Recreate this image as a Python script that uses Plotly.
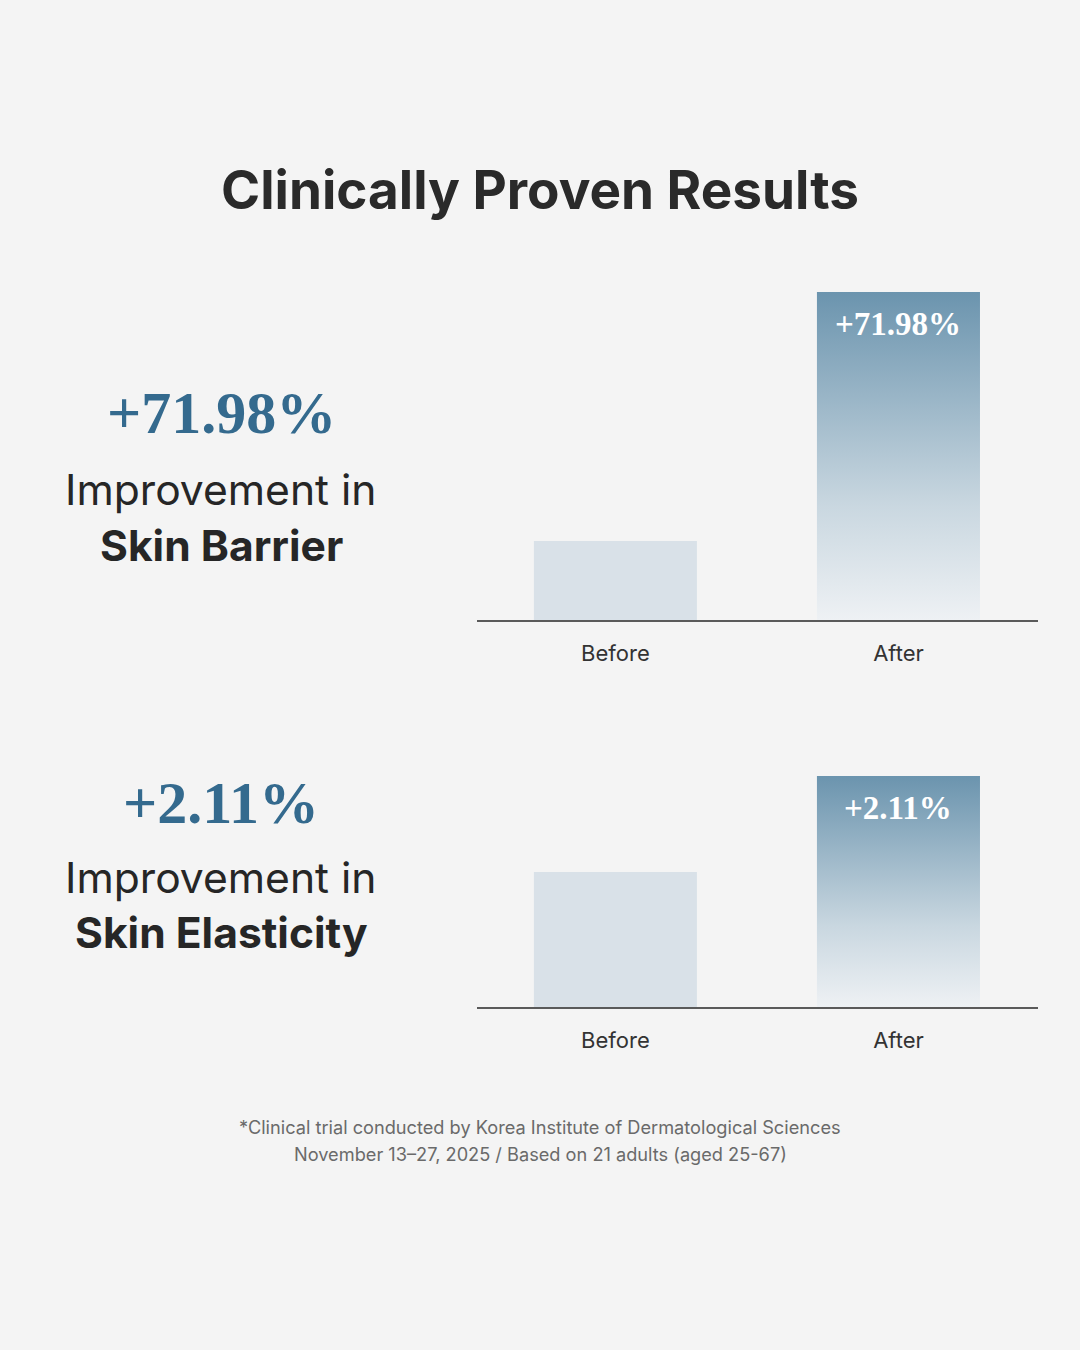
import plotly.graph_objects as go

W, H = 1080, 1350

# ---- data ----
categories = ["Before", "After"]
barrier_heights = [24.1, 100.0]      # relative bar heights
elasticity_heights = [58.4, 100.0]
barrier_label = "+71.98%"
elasticity_label = "+2.11%"
title_text = "Clinically Proven Results"
footnote_lines = [
    "*Clinical trial conducted by Korea Institute of Dermatological Sciences",
    "November 13\u201327, 2025 / Based on 21 adults (aged 25-67)",
]

BG = "#f4f4f4"
BEFORE_COL = "#d9e1e8"
BLUE_TOP = "#6b94ae"
GRAD_BOTTOM = "#eef1f4"
ACCENT = "#346a8e"
DARK = "#262626"
SANS = "Inter, Roboto, sans-serif"
SERIF = "Liberation Serif, DejaVu Serif, serif"

BAR_W = 0.576


def py(px):
    return 1 - px / H


fig = go.Figure()

panels = [
    dict(heights=barrier_heights, label=barrier_label, xa="x", ya="y"),
    dict(heights=elasticity_heights, label=elasticity_label, xa="x2", ya="y2"),
]

for p in panels:
    before, after = p["heights"]
    fig.add_trace(go.Bar(x=[0], y=[before], width=BAR_W, marker_color=BEFORE_COL,
                         marker_line_width=0, xaxis=p["xa"], yaxis=p["ya"],
                         hoverinfo="skip", showlegend=False))
    xl, xr = 1 - BAR_W / 2, 1 + BAR_W / 2
    fig.add_trace(go.Scatter(x=[xl, xr, xr, xl, xl], y=[0, 0, after, after, 0],
                             mode="lines", line=dict(width=0), fill="toself",
                             fillgradient=dict(type="vertical", start=0, stop=after,
                                               colorscale=[[0, GRAD_BOTTOM], [0.35, "#c9d7e0"], [1, BLUE_TOP]]),
                             xaxis=p["xa"], yaxis=p["ya"], hoverinfo="skip", showlegend=False))
    fig.add_annotation(x=1, y=after, xref=p["xa"], yref=p["ya"], text="<b>%s</b>" % p["label"],
                       showarrow=False, yanchor="top", yshift=-12,
                       font=dict(family=SERIF, size=33, color="white"))

axis_common = dict(range=[-0.489, 1.493], tickvals=[0, 1], ticktext=categories,
                   showgrid=False, zeroline=False, showline=True, linecolor="#5a5a5a",
                   linewidth=1.5, ticks="", tickfont=dict(family=SANS, size=22, color="#333333"),
                   ticklabelstandoff=13, fixedrange=True)
xdom = [477 / W, 1038 / W]
fig.update_layout(
    xaxis=dict(domain=xdom, anchor="y", **axis_common),
    xaxis2=dict(domain=xdom, anchor="y2", **axis_common),
    yaxis=dict(domain=[py(620), py(292)], range=[0, 100], visible=False, fixedrange=True),
    yaxis2=dict(domain=[py(1007), py(776)], range=[0, 100], visible=False, fixedrange=True),
)

# left-side texts
left_x = 221 / W
texts = [
    ("<b>" + barrier_label + "</b>", 413, SERIF, 60, ACCENT),
    ("Improvement in", 489, SANS, 42.6, DARK),
    ("<b>Skin Barrier</b>", 545, SANS, 42.6, DARK),
    ("<b>" + elasticity_label + "</b>", 803, SERIF, 60, ACCENT),
    ("Improvement in", 877, SANS, 42.6, DARK),
    ("<b>Skin Elasticity</b>", 932, SANS, 42.6, DARK),
]
for t, y, fam, sz, col in texts:
    fig.add_annotation(x=left_x, y=py(y), xref="paper", yref="paper", text=t, showarrow=False,
                       xanchor="center", yanchor="middle", font=dict(family=fam, size=sz, color=col))

fig.add_annotation(x=0.5, y=py(190), xref="paper", yref="paper", text="<b>" + title_text + "</b>",
                   showarrow=False, xanchor="center", yanchor="middle",
                   font=dict(family=SANS, size=53, color="#2a2a2a"))
for i, line in enumerate(footnote_lines):
    fig.add_annotation(x=0.5, y=py(1127 + 27 * i), xref="paper", yref="paper", text=line,
                       showarrow=False, xanchor="center", yanchor="middle",
                       font=dict(family=SANS, size=18.2, color="#6a6a6a"))

fig.update_layout(width=W, height=H, margin=dict(l=0, r=0, t=0, b=0),
                  paper_bgcolor=BG, plot_bgcolor=BG, showlegend=False, barmode="overlay")

fig.write_html("out.html", config={"displayModeBar": False})
